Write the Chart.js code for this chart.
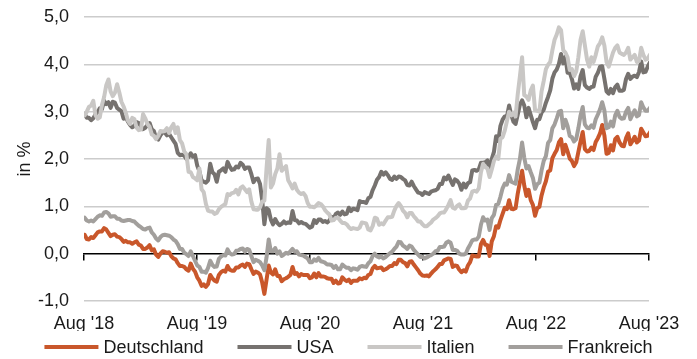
<!DOCTYPE html>
<html>
<head>
<meta charset="utf-8">
<script src="https://cdn.jsdelivr.net/npm/chart.js@4/dist/chart.umd.min.js"></script>
<style>
  html, body { margin: 0; padding: 0; background: #fff; }
  #wrap { width: 697px; height: 359px; }
</style>
</head>
<body>
<div id="wrap"><canvas id="c" width="697" height="359"></canvas></div>
<script>
// Rendite 10-jähriger Staatsanleihen, Wochenschlusswerte (Freitag) ab 03.08.2018
const firstFriday = [2018, 7, 3];
const seriesNames = ['Deutschland', 'USA', 'Italien', 'Frankreich'];
const tickLabels = ["Aug '18", "Aug '19", "Aug '20", "Aug '21", "Aug '22", "Aug '23"];

const deutschland = [
  0.40, 0.31, 0.30, 0.35, 0.33,
  0.39, 0.45, 0.47, 0.47,
  0.54, 0.51, 0.44, 0.37,
  0.40, 0.41, 0.36, 0.35, 0.31,
  0.25, 0.27, 0.24, 0.24,
  0.21, 0.24, 0.26, 0.19,
  0.17, 0.10, 0.10, 0.13,
  0.18, 0.07, 0.09, -0.02, -0.07,
  0.00, 0.05, 0.04, 0.02,
  0.03, -0.05, -0.10, -0.12, -0.20,
  -0.26, -0.26, -0.28, -0.33,
  -0.36, -0.21, -0.32, -0.38,
  -0.50, -0.57, -0.68, -0.65, -0.70,
  -0.64, -0.45, -0.52, -0.57,
  -0.59, -0.45, -0.39, -0.36,
  -0.38, -0.26, -0.34, -0.36, -0.36,
  -0.29, -0.29, -0.25, -0.23,
  -0.28, -0.21, -0.22, -0.33, -0.43,
  -0.38, -0.40, -0.44, -0.61,
  -0.85, -0.55, -0.25, -0.40,
  -0.44, -0.33, -0.47, -0.47,
  -0.58, -0.54, -0.52, -0.49, -0.45,
  -0.28, -0.43, -0.41, -0.48,
  -0.43, -0.45, -0.45, -0.45, -0.52,
  -0.50, -0.42, -0.50, -0.41,
  -0.48, -0.48, -0.49, -0.52,
  -0.53, -0.53, -0.62, -0.57, -0.63,
  -0.62, -0.50, -0.55, -0.58,
  -0.55, -0.62, -0.57, -0.57,
  -0.57, -0.52, -0.54, -0.51, -0.52,
  -0.45, -0.43, -0.31, -0.26,
  -0.31, -0.30, -0.29, -0.35,
  -0.33, -0.30, -0.26, -0.26, -0.20,
  -0.22, -0.13, -0.13, -0.18,
  -0.20, -0.27, -0.17, -0.16,
  -0.23, -0.29, -0.35, -0.42, -0.46,
  -0.47, -0.46, -0.48, -0.42,
  -0.37, -0.33, -0.28, -0.22,
  -0.22, -0.14, -0.12, -0.10, -0.11,
  -0.28, -0.25, -0.26, -0.34,
  -0.39, -0.35, -0.38, -0.25, -0.18,
  -0.04, -0.05, -0.06, -0.06,
  0.20, 0.29, 0.19, 0.18,
  -0.05, 0.26, 0.37, 0.58,
  0.55, 0.71, 0.84, 0.97, 0.94,
  1.13, 0.95, 0.94, 0.96,
  1.27, 1.51, 1.75, 1.44,
  1.22, 1.35, 1.13, 1.03, 0.80,
  0.96, 0.99, 1.23, 1.40,
  1.53, 1.73, 1.76, 2.02, 2.11,
  2.19, 2.35, 2.42, 2.10,
  2.30, 2.16, 2.01, 1.96,
  1.85, 1.93, 2.15, 2.37, 2.57,
  2.21, 2.16, 2.17, 2.24,
  2.19, 2.36, 2.44, 2.54,
  2.72, 2.50, 2.11, 2.13, 2.29,
  2.18, 2.42, 2.47, 2.35,
  2.28, 2.27, 2.44, 2.54,
  2.31, 2.38, 2.47, 2.35, 2.39,
  2.64, 2.56, 2.48, 2.49,
  2.56
];

const usa = [
  2.95, 2.87, 2.87, 2.82, 2.86,
  2.94, 2.99, 3.07, 3.05,
  3.23, 3.16, 3.20, 3.08,
  3.21, 3.19, 3.08, 3.04, 3.01,
  2.85, 2.89, 2.79, 2.72,
  2.67, 2.70, 2.78, 2.76,
  2.69, 2.63, 2.66, 2.72,
  2.76, 2.63, 2.59, 2.44, 2.41,
  2.50, 2.56, 2.56, 2.50,
  2.53, 2.46, 2.39, 2.32, 2.13,
  2.08, 2.09, 2.07, 2.00,
  2.04, 2.12, 2.05, 2.08,
  1.86, 1.74, 1.55, 1.52, 1.50,
  1.55, 1.90, 1.72, 1.68,
  1.52, 1.73, 1.76, 1.80,
  1.73, 1.94, 1.84, 1.77, 1.78,
  1.84, 1.82, 1.92, 1.88,
  1.79, 1.82, 1.82, 1.68, 1.51,
  1.58, 1.59, 1.47, 1.13,
  0.62, 0.96, 0.92, 0.72,
  0.62, 0.73, 0.65, 0.60,
  0.63, 0.68, 0.64, 0.66, 0.65,
  0.90, 0.71, 0.70, 0.64,
  0.67, 0.64, 0.63, 0.59, 0.55,
  0.57, 0.71, 0.65, 0.72,
  0.72, 0.67, 0.69, 0.66,
  0.70, 0.78, 0.75, 0.84, 0.87,
  0.82, 0.89, 0.83, 0.84,
  0.97, 0.90, 0.95, 0.94,
  0.92, 1.11, 1.09, 1.09, 1.07,
  1.17, 1.20, 1.34, 1.44,
  1.56, 1.62, 1.73, 1.67,
  1.72, 1.66, 1.58, 1.56, 1.63,
  1.58, 1.63, 1.62, 1.58,
  1.55, 1.45, 1.44, 1.52,
  1.43, 1.36, 1.29, 1.28, 1.24,
  1.30, 1.28, 1.26, 1.31,
  1.33, 1.34, 1.37, 1.47,
  1.47, 1.61, 1.57, 1.65, 1.55,
  1.45, 1.57, 1.54, 1.48,
  1.35, 1.48, 1.40, 1.49, 1.51,
  1.76, 1.77, 1.75, 1.78,
  1.92, 1.92, 1.93, 1.97,
  1.73, 2.00, 2.15, 2.48,
  2.38, 2.70, 2.83, 2.90, 2.89,
  3.13, 2.93, 2.79, 2.74,
  2.94, 3.15, 3.24, 3.13,
  2.88, 3.08, 2.93, 2.78, 2.65,
  2.83, 2.84, 2.98, 3.04,
  3.19, 3.31, 3.45, 3.70, 3.83,
  3.89, 4.01, 4.22, 4.02,
  4.16, 3.82, 3.83, 3.69,
  3.49, 3.58, 3.48, 3.75, 3.88,
  3.56, 3.51, 3.48, 3.52,
  3.53, 3.74, 3.82, 3.95,
  3.96, 3.70, 3.43, 3.38, 3.48,
  3.39, 3.52, 3.57, 3.44,
  3.44, 3.46, 3.69, 3.80,
  3.69, 3.74, 3.76, 3.73, 3.84,
  4.06, 3.83, 3.84, 3.95,
  4.04
];

const italien = [
  2.92, 3.00, 3.10, 3.13, 3.23,
  2.93, 2.85, 2.88, 3.14,
  3.31, 3.56, 3.68, 3.43,
  3.33, 3.40, 3.58, 3.41, 3.21,
  3.11, 2.98, 2.81, 2.74,
  2.87, 2.84, 2.66, 2.61,
  2.62, 2.95, 2.86, 2.74,
  2.68, 2.52, 2.49, 2.42, 2.49,
  2.59, 2.58, 2.59, 2.65,
  2.55, 2.67, 2.74, 2.55, 2.67,
  2.40, 2.33, 2.16, 2.10,
  1.73, 1.72, 1.62, 1.59,
  1.55, 1.80, 1.36, 1.30, 1.05,
  0.91, 0.89, 0.89, 0.84,
  0.86, 0.94, 0.99, 1.02,
  1.05, 1.26, 1.24, 1.28, 1.29,
  1.35, 1.25, 1.39, 1.42,
  1.36, 1.30, 1.36, 1.10, 0.94,
  0.93, 0.93, 0.98, 1.10,
  1.12, 1.80, 2.40, 1.40,
  1.48, 1.68, 1.80, 2.10,
  1.75, 1.80, 1.85, 1.55, 1.47,
  1.38, 1.48, 1.35, 1.29,
  1.26, 1.28, 1.22, 1.07, 0.99,
  0.99, 0.98, 1.02, 1.07,
  1.05, 1.00, 0.92, 0.87,
  0.83, 0.70, 0.71, 0.76, 0.76,
  0.70, 0.65, 0.65, 0.62,
  0.56, 0.52, 0.54, 0.53,
  0.52, 0.55, 0.66, 0.65, 0.64,
  0.51, 0.49, 0.58, 0.76,
  0.74, 0.61, 0.64, 0.62,
  0.70, 0.77, 0.77, 0.78, 0.91,
  1.01, 1.07, 1.01, 0.91,
  0.86, 0.77, 0.86, 0.86,
  0.79, 0.74, 0.68, 0.68, 0.62,
  0.58, 0.58, 0.62, 0.66,
  0.72, 0.75, 0.79, 0.85,
  0.87, 0.87, 0.94, 1.03, 1.13,
  0.97, 0.95, 1.01, 1.04,
  0.96, 0.96, 0.97, 1.12, 1.17,
  1.31, 1.33, 1.31, 1.38,
  1.72, 1.90, 1.83, 1.80,
  1.62, 1.78, 1.96, 2.05,
  2.00, 2.43, 2.46, 2.60, 2.80,
  3.00, 2.92, 2.98, 2.90,
  3.37, 3.75, 4.15, 3.35,
  3.32, 3.25, 3.45, 3.55, 3.03,
  3.02, 3.00, 3.43, 3.65,
  3.90, 3.99, 4.05, 4.30, 4.52,
  4.63, 4.78, 4.72, 4.30,
  4.25, 4.15, 3.88, 3.90,
  3.75, 3.85, 4.15, 4.52, 4.70,
  4.40, 4.10, 3.95, 4.15,
  4.05, 4.20, 4.38, 4.45,
  4.57, 4.40, 4.05, 3.95, 4.10,
  4.25, 4.35, 4.40, 4.25,
  4.22, 4.20, 4.25, 4.35,
  4.10, 4.15, 4.20, 4.05, 4.07,
  4.35, 4.20, 4.10, 4.12,
  4.20
];

const frankreich = [
  0.76, 0.70, 0.68, 0.70, 0.68,
  0.73, 0.78, 0.81, 0.80,
  0.87, 0.88, 0.85, 0.78,
  0.79, 0.79, 0.74, 0.74, 0.70,
  0.69, 0.70, 0.71, 0.71,
  0.69, 0.68, 0.63, 0.59,
  0.56, 0.52, 0.51, 0.54,
  0.55, 0.45, 0.40, 0.32, 0.28,
  0.35, 0.39, 0.40, 0.39,
  0.38, 0.35, 0.30, 0.27, 0.20,
  0.10, 0.10, 0.02, -0.01,
  -0.05, 0.05, -0.05, -0.15,
  -0.25, -0.28, -0.38, -0.38, -0.40,
  -0.30, -0.15, -0.24, -0.28,
  -0.27, -0.11, -0.06, -0.03,
  -0.04, 0.09, 0.01, -0.02, -0.01,
  0.06, 0.07, 0.10, 0.11,
  0.04, 0.10, 0.08, -0.05, -0.18,
  -0.13, -0.15, -0.18, -0.25,
  -0.35, -0.08, 0.30, 0.05,
  0.05, 0.12, 0.00, 0.05,
  -0.05, -0.02, 0.02, 0.00, 0.05,
  0.10, 0.04, 0.05, -0.02,
  -0.03, -0.04, -0.07, -0.10, -0.18,
  -0.18, -0.12, -0.15, -0.09,
  -0.16, -0.17, -0.19, -0.23,
  -0.23, -0.24, -0.30, -0.26, -0.33,
  -0.33, -0.23, -0.27, -0.30,
  -0.30, -0.35, -0.31, -0.32,
  -0.34, -0.28, -0.26, -0.27, -0.28,
  -0.20, -0.16, -0.05, 0.00,
  -0.06, -0.08, -0.06, -0.10,
  -0.07, -0.03, 0.01, 0.04, 0.10,
  0.15, 0.25, 0.24, 0.17,
  0.14, 0.10, 0.17, 0.15,
  0.08, 0.03, -0.02, -0.07, -0.07,
  -0.10, -0.08, -0.05, -0.03,
  0.00, 0.05, 0.06, 0.14,
  0.14, 0.15, 0.23, 0.26, 0.23,
  0.08, 0.08, 0.06, 0.00,
  -0.02, -0.02, 0.00, 0.11, 0.19,
  0.28, 0.30, 0.30, 0.36,
  0.61, 0.77, 0.70, 0.72,
  0.50, 0.75, 0.82, 1.03,
  1.05, 1.20, 1.38, 1.48, 1.46,
  1.66, 1.52, 1.50, 1.48,
  1.78, 2.00, 2.35, 2.03,
  1.80, 1.85, 1.72, 1.60, 1.37,
  1.47, 1.50, 1.76, 1.96,
  2.06, 2.34, 2.40, 2.65, 2.73,
  2.86, 3.00, 3.02, 2.65,
  2.83, 2.70, 2.49, 2.46,
  2.37, 2.42, 2.65, 2.92, 3.10,
  2.73, 2.66, 2.65, 2.71,
  2.66, 2.84, 2.94, 3.05,
  3.20, 3.03, 2.65, 2.67, 2.79,
  2.69, 2.92, 3.02, 2.89,
  2.85, 2.86, 3.00, 3.08,
  2.84, 2.94, 3.03, 2.90, 2.93,
  3.20, 3.09, 3.02, 3.02,
  3.08
];

const seriesValues = [deutschland, usa, italien, frankreich];
const seriesColors = ['#c9572b', '#76726f', '#c9c7c5', '#a29f9c'];

// x-Werte: Monate seit 1. August 2018
const DAY = 86400000;
const origin = Date.UTC(2018, 7, 1);
const firstT = Date.UTC(firstFriday[0], firstFriday[1], firstFriday[2]);
const monthOf = i => (firstT + i * 7 * DAY - origin) / (DAY * 30.4375);

const FONT = '"Liberation Sans", Arial, sans-serif';
const FONT_SIZE = 18;
const TEXT = '#1a1a1a';

const datasets = seriesNames.map((name, k) => ({
  label: name,
  data: seriesValues[k].map((v, i) => ({ x: monthOf(i), y: v })),
  borderColor: seriesColors[k],
  backgroundColor: seriesColors[k],
  borderWidth: 4,
  borderJoinStyle: 'round',
  borderCapStyle: 'round',
  pointRadius: 0,
  tension: 0,
  fill: false,
  order: seriesNames.length - k
}));

// Legende unter dem Diagramm: Linienstück + Name, mittig angeordnet
const lineLegend = {
  id: 'lineLegend',
  afterDraw(chart) {
    const ctx = chart.ctx;
    ctx.save();
    ctx.font = FONT_SIZE + 'px ' + FONT;
    const lineLen = 54, textGap = 5, itemGap = 34, y = 347;
    const items = chart.data.datasets.map(ds => ({ ds, w: ctx.measureText(ds.label).width }));
    const total = items.reduce((s, it) => s + lineLen + textGap + it.w, 0) + itemGap * (items.length - 1);
    let x = (chart.width - total) / 2;
    ctx.textBaseline = 'middle';
    ctx.textAlign = 'left';
    items.forEach(it => {
      ctx.strokeStyle = it.ds.borderColor;
      ctx.lineWidth = 4;
      ctx.lineCap = 'butt';
      ctx.beginPath();
      ctx.moveTo(x, y);
      ctx.lineTo(x + lineLen, y);
      ctx.stroke();
      x += lineLen + textGap;
      ctx.fillStyle = TEXT;
      ctx.fillText(it.ds.label, x, y + 1);
      x += it.w + itemGap;
    });
    ctx.restore();
  }
};

new Chart(document.getElementById('c'), {
  type: 'line',
  data: { datasets },
  options: {
    responsive: false,
    animation: false,
    events: [],
    devicePixelRatio: 1,
    layout: { padding: { left: 0, right: 48, top: 17, bottom: 28 } },
    plugins: { legend: { display: false }, tooltip: { enabled: false } },
    scales: {
      x: {
        type: 'linear',
        position: 'bottom',
        min: 0, max: 60,
        grid: { display: false, drawTicks: false },
        border: { display: false },
        ticks: {
          stepSize: 12,
          padding: 12,
          autoSkip: false,
          maxRotation: 0,
          color: TEXT,
          font: { family: FONT, size: FONT_SIZE },
          callback: v => tickLabels[Math.round(v / 12)]
        },
        afterFit: s => { s.height = 30; }
      },
      xZero: {
        type: 'linear',
        position: { y: 0 },
        min: 0, max: 60,
        grid: { drawOnChartArea: false, drawTicks: true, tickLength: 6, color: '#000', lineWidth: 1.5 },
        border: { display: true, color: '#000', width: 1.5 },
        ticks: { display: false, stepSize: 12 }
      },
      y: {
        min: -1, max: 5,
        border: { display: false },
        grid: {
          drawTicks: false,
          lineWidth: 1.5,
          color: c => (c.tick && c.tick.value === 0) ? 'rgba(0,0,0,0)' : '#cccccc'
        },
        ticks: {
          stepSize: 1,
          padding: 15,
          color: TEXT,
          font: { family: FONT, size: FONT_SIZE },
          callback: v => v.toFixed(1).replace('.', ',')
        },
        title: {
          display: true,
          text: 'in %',
          color: TEXT,
          font: { family: FONT, size: FONT_SIZE },
          padding: { top: 14, bottom: 0 }
        },
        afterFit: s => { s.width = 84; s.paddingTop = 0; s.paddingBottom = 0; }
      }
    }
  },
  plugins: [lineLegend]
});
</script>
</body>
</html>
